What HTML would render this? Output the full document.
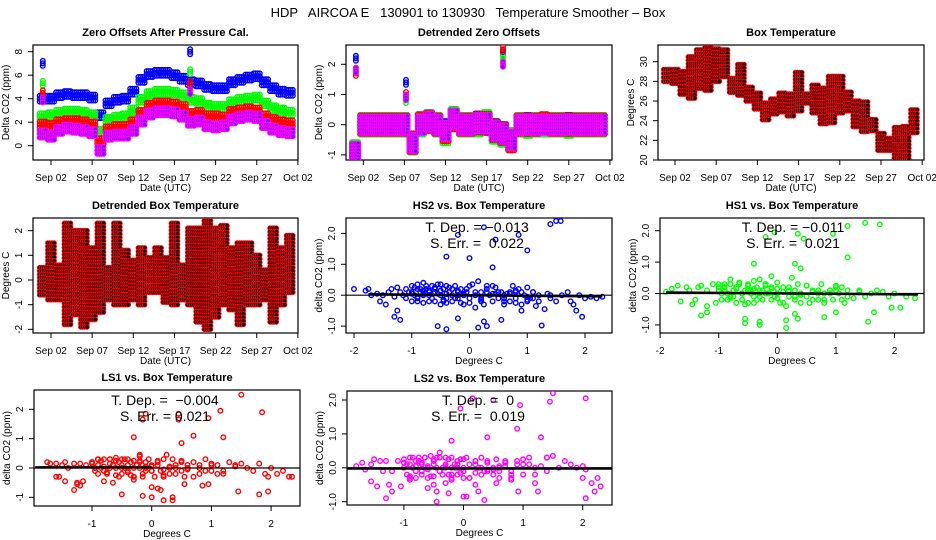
<!DOCTYPE html>
<html><head><meta charset="utf-8"><style>
html,body{margin:0;padding:0;background:#fff;}
svg{display:block;font-family:"Liberation Sans",Arial,sans-serif;}
</style></head><body>
<svg id="chart" width="936" height="540" viewBox="0 0 936 540">
<rect x="0" y="0" width="936" height="540" fill="#fff"/>
<text x="468" y="17" font-size="13" text-anchor="middle" style="white-space:pre" xml:space="preserve">HDP   AIRCOA E   130901 to 130930   Temperature Smoother – Box</text>
</svg>
<script>
// ---------- data: time series (t = day of month, step 1) ----------
const days = [1,2,3,4,5,6,7,8,9,10,11,12,13,14,15,16,17,18,19,20,21,22,23,24,25,26,27,28,29,30,31];
const zeroBlue   = [4.0,4.0,4.3,4.4,4.3,4.3,4.1,2.6,3.6,3.9,4.0,4.6,5.6,6.1,6.2,6.2,6.0,5.7,5.4,5.3,5.0,4.9,4.9,5.4,5.6,5.8,5.9,5.4,4.9,4.6,4.5];
const zeroGreen  = [2.5,2.6,2.8,2.9,2.9,2.8,2.6,1.2,2.2,2.4,2.5,3.0,3.9,4.4,4.6,4.6,4.5,4.3,3.9,3.8,3.4,3.3,3.3,3.7,3.9,4.0,4.1,3.6,3.2,3.0,2.8];
const zeroRed    = [1.8,1.7,2.0,2.1,2.1,2.0,1.8,0.4,1.4,1.6,1.6,2.0,2.8,3.4,3.6,3.6,3.5,3.3,2.7,2.8,2.5,2.5,2.4,2.9,3.0,3.1,3.0,2.5,2.2,2.0,1.9];
const zeroPurple = [1.0,0.8,1.3,1.5,1.4,1.3,1.1,-0.4,0.8,0.9,0.9,1.3,2.1,2.7,2.9,2.9,2.8,2.5,2.0,2.1,1.7,1.6,1.7,2.2,2.4,2.5,2.4,1.8,1.4,1.2,1.1];
const zeroOutT = [1.0,18.9];
const zeroOutBlue = [7.0,8.0];
const zeroOutGreen = [5.3,6.3];
const zeroOutRed = [4.5,5.3];
const zeroOutPurple = [3.9,4.6];

const detBlue   = [-0.9,0.0,0.0,0.0,0.0,0.0,0.0,-0.6,0.0,0.1,0.0,-0.2,0.2,0.0,0.0,0.05,0.05,-0.2,-0.3,-0.5,0.0,0.0,0.0,0.0,0.0,0.0,0.0,0.0,0.0,0.0,0.0];
const detGreen  = [-0.9,0.0,0.0,0.0,0.0,0.0,0.0,-0.6,0.0,0.1,0.0,-0.3,0.2,0.0,0.0,0.0,0.1,-0.25,-0.35,-0.5,0.0,-0.05,0.0,0.0,0.0,0.0,-0.05,0.0,0.0,0.0,0.0];
const detRed    = [-0.95,0.0,0.0,0.0,0.0,0.0,0.0,-0.6,0.05,0.1,0.0,-0.25,0.15,0.0,0.0,0.05,0.05,-0.2,-0.3,-0.55,0.0,0.0,0.0,0.05,0.0,0.0,0.0,0.0,0.0,0.0,0.0];
const detPurple = [-0.9,0.0,0.0,0.0,0.0,0.0,0.0,-0.6,0.0,0.1,0.0,-0.2,0.2,0.0,0.0,0.05,0.05,-0.2,-0.3,-0.5,0.0,0.0,0.0,0.0,0.0,0.0,0.0,0.0,0.0,0.0,0.0];
const detOutT = [1.1,7.2,19.0];
const detOutBlue = [2.2,1.4,2.4];
const detOutGreen = [1.8,0.8,2.2];
const detOutRed = [1.7,1.0,2.5];
const detOutPurple = [1.8,0.9,2.0];

const boxTempMin = [28.0,27.8,26.7,26.3,27.3,27.1,28.0,28.5,26.9,26.6,26.0,25.2,24.1,24.7,24.9,24.5,25.0,25.8,24.8,23.7,23.8,24.8,25.0,23.4,22.9,23.0,21.0,21.0,20.2,20.1,22.8];
const boxTempMax = [29.2,29.2,29.0,30.5,31.2,31.4,31.3,31.2,28.3,29.7,27.4,26.8,25.8,26.2,26.8,26.7,28.9,26.7,27.6,27.3,28.5,28.5,26.9,26.0,25.9,24.1,22.7,22.2,23.3,23.4,25.1];

const detTempMin = [-0.6,-0.8,-0.8,-1.8,-1.4,-1.9,-1.6,-1.3,-0.8,-1.0,-1.0,-0.8,-1.0,-0.5,-0.5,-0.9,-1.0,-0.8,-1.0,-1.7,-2.0,-1.5,-1.0,-1.2,-1.8,-1.0,-1.0,-0.8,-1.7,-1.0,-0.5];
const detTempMax = [0.5,1.5,0.6,2.3,2.0,2.0,1.3,2.3,0.5,2.3,1.2,0.8,1.3,0.9,1.3,0.9,2.3,0.6,2.1,2.1,2.4,2.1,2.2,1.3,1.5,1.5,1.0,0.4,2.1,1.3,1.8];

// ---------- data: scatter panels ----------
const hs2X = [-2.0,-1.8,-1.75,-1.7,-1.6,-1.55,-1.5,-1.45,-1.4,-1.35,-1.3,-1.25,-1.2,-1.15,-1.1,-1.05,-1.0,-0.95,-0.9,-0.9,-0.85,-0.8,-0.8,-0.75,-0.7,-0.65,-0.6,-0.6,-0.55,-0.5,-0.5,-0.45,-0.4,-0.4,-0.35,-0.3,-0.25,-0.2,-0.15,-0.1,-0.05,0.0,0.05,0.1,0.15,0.2,0.25,0.3,0.35,0.4,0.45,0.5,0.55,0.6,0.65,0.7,0.75,0.8,0.85,0.9,0.95,1.0,1.05,1.1,1.15,1.2,1.3,1.35,1.4,1.5,1.6,1.7,1.75,1.8,1.9,2.0,2.1,2.2,2.3,
 -1.0,-0.9,-0.7,-0.6,-0.5,-0.3,-0.2,0.1,0.2,0.3,0.6,0.8,1.0,1.1,-1.1,-0.8,-0.45,-0.15,0.45,0.7,
 -1.3,-1.25,-1.2,-0.55,-0.4,-0.4,-0.2,-0.2,0.0,0.25,0.4,0.45,0.3,0.15,0.25,0.55,0.85,1.0,1.25,1.4,1.5,1.58,1.85,1.95,0.9];
const hs2Y = [0.2,0.15,0.2,0.0,0.05,-0.2,0.0,-0.3,0.1,0.2,-0.05,0.25,0.1,0.0,0.2,0.1,0.3,0.0,0.35,-0.2,0.1,0.4,-0.25,0.2,0.0,0.3,-0.2,0.1,0.35,0.0,-0.3,0.2,0.3,-0.1,0.1,-0.2,0.3,0.0,0.2,-0.3,0.1,-0.1,0.35,-0.4,0.45,0.1,-0.3,0.3,0.0,-0.2,0.25,-0.1,0.1,-0.3,0.05,-0.2,0.3,-0.1,0.2,-0.3,0.0,0.25,-0.1,0.1,-0.35,0.0,-0.45,0.05,-0.1,-0.2,0.0,0.1,-0.2,-0.3,0.0,-0.1,-0.05,-0.1,-0.05,
 0.1,0.2,0.15,0.25,0.15,0.2,-0.1,0.1,-0.15,0.2,0.0,0.15,-0.15,0.1,-0.1,0.05,-0.15,0.05,0.05,0.1,
 -0.7,-0.5,-0.8,-1.0,-1.1,1.25,1.95,-0.75,1.2,2.2,0.9,1.8,-1.0,-1.05,-0.85,-0.8,1.95,1.45,-0.98,2.3,2.4,2.4,-0.5,-0.7,-0.5];

const hs1X = [-1.9,-1.8,-1.7,-1.65,-1.55,-1.5,-1.4,-1.35,-1.3,-1.2,-1.1,-1.05,-1.0,-0.95,-0.9,-0.85,-0.8,-0.75,-0.7,-0.65,-0.6,-0.55,-0.5,-0.45,-0.4,-0.35,-0.3,-0.25,-0.2,-0.1,-0.05,0.0,0.05,0.1,0.15,0.2,0.25,0.3,0.35,0.4,0.5,0.55,0.6,0.7,0.75,0.8,0.9,0.95,1.0,1.05,1.1,1.15,1.2,1.3,1.4,1.5,1.6,1.7,1.8,1.9,2.0,
 -0.9,-0.7,-0.5,-0.3,-0.1,0.1,0.3,0.5,0.7,0.9,-0.8,-0.6,-0.4,-0.2,0.0,0.2,0.4,
 -1.3,-1.45,-1.2,-1.2,-0.55,-0.55,-0.3,-0.3,-0.4,-0.2,-0.05,0.3,0.4,0.35,0.45,0.15,0.15,0.3,0.35,0.8,0.95,1.0,1.2,1.2,1.5,1.55,1.65,1.75,1.95,2.1,2.2,2.35];
const hs1Y = [0.05,0.15,0.25,-0.25,0.2,0.1,-0.2,0.2,0.25,0.1,0.3,-0.3,0.2,0.0,0.3,-0.2,0.45,0.1,-0.3,0.3,0.0,-0.35,0.3,0.1,0.4,-0.2,0.45,0.1,0.3,0.55,-0.1,0.35,-0.3,0.2,-0.4,0.1,0.5,-0.2,0.3,0.0,0.25,-0.3,0.1,-0.2,0.3,0.0,0.1,-0.2,0.25,0.0,0.2,-0.3,0.1,-0.15,0.1,-0.1,0.0,0.1,0.05,-0.1,0.0,
 0.1,0.2,0.1,0.0,0.15,0.05,0.1,-0.1,0.0,0.1,-0.1,-0.2,-0.1,0.0,-0.15,-0.1,-0.05,
 -0.7,-0.35,-0.4,-0.6,-0.8,-0.95,-0.9,-1.0,0.95,1.8,1.95,0.95,0.8,1.9,1.75,-0.85,-1.1,-0.65,-0.8,-0.75,1.9,-0.6,2.15,1.15,2.25,-0.9,-0.6,2.2,-0.45,-0.45,-0.1,-0.15];

const ls1X = [-1.75,-1.7,-1.6,-1.55,-1.5,-1.45,-1.4,-1.3,-1.25,-1.2,-1.1,-1.0,-0.95,-0.9,-0.85,-0.8,-0.75,-0.7,-0.65,-0.6,-0.55,-0.5,-0.45,-0.4,-0.35,-0.3,-0.25,-0.2,-0.15,-0.1,0.0,0.05,0.1,0.15,0.2,0.25,0.3,0.35,0.4,0.5,0.55,0.6,0.7,0.8,0.9,1.0,1.1,1.2,1.3,1.4,1.5,1.6,1.7,1.8,1.9,2.0,2.1,2.2,2.3,
 -0.9,-0.7,-0.5,-0.3,-0.1,0.1,0.3,0.5,-0.8,-0.6,-0.4,-0.2,0.0,0.2,0.4,0.6,
 -1.6,-1.45,-1.3,-1.25,-1.2,-1.15,-0.8,-0.65,-0.5,-0.3,-0.3,-0.2,-0.15,-0.15,-0.1,0.0,0.0,0.1,0.15,0.2,0.35,0.35,0.45,0.45,0.5,0.55,0.7,0.85,0.95,0.95,1.15,1.2,1.45,1.5,1.8,1.85,1.95,1.95,2.35];
const ls1Y = [0.2,0.15,0.15,-0.3,0.1,0.2,0.0,0.15,-0.5,0.15,0.1,0.2,-0.1,0.3,0.0,0.3,-0.2,0.3,0.1,0.35,-0.3,0.3,0.0,0.3,-0.25,0.25,0.1,0.4,-0.3,0.2,0.1,-0.3,0.25,-0.1,0.3,0.45,-0.2,0.3,0.0,0.2,-0.3,0.1,0.2,0.0,0.3,-0.1,0.1,-0.2,0.2,0.1,0.15,0.0,-0.1,0.15,-0.2,0.0,-0.2,-0.1,-0.3,
 0.1,0.15,0.1,0.0,0.05,0.1,0.0,-0.1,-0.1,0.0,-0.15,0.0,-0.1,-0.05,0.1,-0.05,
 -0.3,-0.45,-0.75,-0.55,-0.6,-0.45,-0.45,-0.5,-0.9,1.05,-0.4,0.45,1.65,-0.95,1.85,-0.65,-1.0,-0.7,-0.75,-1.1,-1.0,-1.1,1.85,1.65,0.85,-0.55,1.1,-0.6,1.7,-0.55,1.95,1.05,-0.8,2.5,-0.9,1.9,-0.3,-0.8,-0.3];

const ls2X = [-1.8,-1.7,-1.65,-1.55,-1.5,-1.4,-1.35,-1.3,-1.2,-1.1,-1.0,-0.95,-0.9,-0.85,-0.8,-0.75,-0.7,-0.65,-0.6,-0.55,-0.5,-0.45,-0.4,-0.35,-0.3,-0.25,-0.2,-0.15,-0.1,-0.05,0.0,0.05,0.1,0.2,0.25,0.3,0.35,0.4,0.5,0.55,0.6,0.7,0.8,0.9,1.0,1.1,1.2,1.3,1.4,1.5,1.6,1.7,1.8,1.9,2.0,2.05,
 -0.9,-0.7,-0.5,-0.3,-0.1,0.1,0.3,0.5,0.7,-0.8,-0.6,-0.4,-0.2,0.0,0.2,0.4,0.6,
 -1.55,-1.45,-1.3,-1.25,-1.2,-1.05,-0.9,-0.6,-0.5,-0.45,-0.45,-0.3,-0.25,-0.2,-0.2,-0.05,0.0,0.05,0.15,0.2,0.25,0.35,0.4,0.5,0.55,0.8,0.9,0.92,0.95,1.2,1.25,1.3,1.4,1.45,1.5,2.0,2.05,2.05,2.15,2.2,2.25,2.3];
const ls2Y = [0.05,0.15,-0.05,0.1,0.25,0.2,-0.1,0.2,-0.1,0.2,0.25,0.1,-0.3,0.3,0.05,0.3,-0.2,0.3,0.0,0.35,-0.25,0.3,0.45,0.0,0.3,-0.2,0.3,0.1,-0.2,0.25,0.0,0.3,-0.3,0.2,0.0,0.3,-0.1,0.2,-0.2,0.25,0.0,0.15,-0.3,0.2,0.25,0.1,-0.2,0.05,0.3,0.35,0.0,0.2,0.1,0.0,0.05,-0.05,
 0.1,0.15,0.1,0.05,0.0,0.1,0.0,-0.05,0.05,-0.1,-0.05,-0.1,0.0,-0.1,-0.15,-0.05,-0.1,
 -0.4,-0.55,-0.9,-0.5,-0.7,-0.55,-0.35,-0.6,-0.5,-0.7,-1.0,-0.45,-0.75,0.8,-0.35,1.75,-0.85,-0.85,2.05,-0.5,-0.7,-0.95,0.9,2.0,-0.45,-0.35,1.15,-0.7,1.85,-0.45,-0.7,0.9,0.3,1.95,2.2,-0.3,2.05,-0.9,-0.45,-0.7,-0.3,-0.55];

// dense central cloud (shared temperature x values, per-channel CO2 values)
const cloudX = [-1.0,-0.95,-0.9,-0.85,-0.8,-0.75,-0.7,-0.65,-0.6,-0.55,-0.5,-0.45,-0.4,-0.35,-0.3,-0.25,-0.2,-0.15,-0.1,-0.05,0.0,0.1,0.2,0.3,0.4,0.5,0.6,0.7,0.8,0.9,1.0,1.1,-1.0,-0.9,-0.8,-0.7,-0.6,-0.5,-0.4,-0.3,-0.2,-0.1,0.0,0.2,0.4,0.6,0.8,1.0,1.2,1.4];
const hs2CloudY = [0.05,0.25,-0.1,0.2,0.0,0.3,0.1,-0.1,0.25,0.05,0.15,-0.2,0.05,0.25,0.0,-0.1,0.15,-0.25,0.05,0.2,0.3,0.0,-0.2,0.1,0.3,0.1,-0.2,0.05,-0.25,0.1,-0.2,-0.1,-0.2,-0.05,0.15,-0.2,0.2,0.35,-0.25,0.2,0.1,0.0,-0.25,-0.1,0.05,-0.1,0.1,-0.05,-0.2,0.0];
const hs1CloudY = [0.1,-0.2,0.2,0.0,0.3,-0.1,0.15,0.35,-0.2,0.1,0.25,0.0,-0.3,0.2,0.1,-0.2,0.3,0.0,0.2,-0.1,0.15,-0.3,0.2,-0.1,0.0,0.25,-0.2,0.1,-0.3,0.0,0.2,-0.2,0.3,0.1,-0.15,0.2,0.0,-0.3,0.15,-0.1,0.25,-0.2,0.0,0.1,-0.3,0.05,-0.2,0.1,-0.1,0.05];
const ls1CloudY = [0.2,0.0,-0.2,0.25,0.05,-0.15,0.3,0.1,-0.25,0.2,0.0,0.3,-0.1,0.2,-0.3,0.1,0.25,-0.2,0.0,0.3,-0.1,0.2,-0.3,0.05,-0.2,0.25,0.0,-0.3,0.1,-0.1,0.1,-0.2,0.15,0.3,-0.1,0.0,0.25,-0.2,0.1,-0.3,0.2,-0.1,0.05,-0.25,0.1,0.0,-0.2,0.15,-0.1,0.05];
const ls2CloudY = [0.15,-0.2,0.3,0.0,-0.3,0.2,-0.1,0.3,0.05,-0.25,0.2,0.0,0.3,-0.2,0.1,0.25,-0.3,0.0,0.2,-0.15,0.25,-0.3,0.1,-0.2,0.15,0.0,-0.3,0.2,-0.1,0.1,-0.2,0.3,0.0,-0.25,0.2,0.1,-0.3,0.25,-0.1,0.0,-0.2,0.1,-0.3,0.2,-0.1,0.05,-0.2,0.1,0.0,-0.1];

// ---------- helpers ----------
const svg = document.getElementById('chart');
const NS = 'http://www.w3.org/2000/svg';
function mk(tag, attrs, parent){ const e=document.createElementNS(NS,tag); for(const k in attrs) e.setAttribute(k,attrs[k]); (parent||svg).appendChild(e); return e; }
function txt(x,y,s,size,opts){ const e=mk('text',Object.assign({x:x,y:y,'font-size':size,'text-anchor':'middle'},opts||{})); e.textContent=s; return e; }

function panel(p){
  const g = mk('g',{});
  
  
  const b = mk('rect',{x:p.x0,y:p.y0,width:p.x1-p.x0,height:p.y1-p.y0,fill:'none',stroke:'#000','stroke-width':1.2},g);
  
  
  const t = txt((p.x0+p.x1)/2, p.y0-9, p.title, 11, {'font-weight':'bold'});
  
  
  const xa = mk('g',{},g);
  
  
  const xs = p.xt.map(p.fx);
  mk('line',{x1:xs[0],x2:xs[xs.length-1],y1:p.y1,y2:p.y1,stroke:'#000'},xa);
  p.xt.forEach((v,i)=>{
    mk('line',{x1:xs[i],x2:xs[i],y1:p.y1,y2:p.y1+5,stroke:'#000'},xa);
    const l = txt(xs[i], p.y1+21, p.xl[i], 10);
    
    
  });
  const xt = txt((p.x0+p.x1)/2, p.y1+31, p.xlab, 10);
  
  
  const ya = mk('g',{},g);
  
  
  const ys = p.yt.map(p.fy);
  mk('line',{x1:p.x0,x2:p.x0,y1:ys[0],y2:ys[ys.length-1],stroke:'#000'},ya);
  p.yt.forEach((v,i)=>{
    mk('line',{x1:p.x0-5,x2:p.x0,y1:ys[i],y2:ys[i],stroke:'#000'},ya);
    const lx = p.x0-11;
    const l = txt(lx, ys[i], p.yl[i], 10, {transform:'rotate(-90 '+lx+' '+ys[i]+')'});
    
    
  });
  const cy=(p.y0+p.y1)/2, cx=p.x0-24;
  const yt = txt(cx, cy, p.ylab, 10, {transform:'rotate(-90 '+cx+' '+cy+')'});
  
  
  const clip = mk('clipPath',{id:'clip-'+p.name});
  mk('rect',{x:p.x0,y:p.y0,width:p.x1-p.x0,height:p.y1-p.y0},clip);
  const marks = mk('g',{'clip-path':'url(#clip-'+p.name+')'},g);
  
  
  return marks;
}
function dot(parent,x,y,stroke,fill,sw){ return mk('circle',{cx:x.toFixed(1),cy:y.toFixed(1),r:2.3,fill:fill||'none',stroke:stroke,'stroke-width':sw||1.4},parent); }

const dateTicks=[2,7,12,17,22,27,32], dateLabels=['Sep 02','Sep 07','Sep 12','Sep 17','Sep 22','Sep 27','Oct 02'];
const BLUE='#0000ff', GREEN='#00ff00', RED='#ff0000', PURP='#ff00ff';

function bandSeries(g,p,vals,half,stroke,fill,nm){
  const s = mk('g',{},g);
  
  
  vals.forEach((v,i)=>{
    const t=days[i];
    const yA=p.fy(v-half), yB=p.fy(v+half);
    const n=Math.max(1,Math.round(Math.abs(yA-yB)/3));
    for(let dx=-0.375;dx<=0.38;dx+=0.25){
      for(let k=0;k<=n;k++){ dot(s,p.fx(t+dx),yB+(yA-yB)*k/n,stroke,fill); }
    }
  });
  return s;
}
function rangeSeries(g,p,mins,maxs,stroke,fill,nm){
  const s = mk('g',{},g);
  
  
  mins.forEach((mn,i)=>{
    const t=days[i]; const yA=p.fy(mn), yB=p.fy(maxs[i]);
    const n=Math.max(1,Math.round(Math.abs(yA-yB)/3.5));
    for(let dx=-0.375;dx<=0.38;dx+=0.25){
      for(let k=0;k<=n;k++){ dot(s,p.fx(t+dx),yB+(yA-yB)*k/n,stroke,fill,1.0); }
    }
  });
}
function outliers(g,p,ts,vals,stroke,fill){
  ts.forEach((t,i)=>{ for(let k=-1;k<=1;k++) dot(g,p.fx(t),p.fy(vals[i])+k*2.5,stroke,fill); });
}

// ---------- Panel 1 ----------
const P1={name:'zero-offsets',x0:33,x1:298,y0:45,y1:160,fx:t=>51+(t-2)*8.23,fy:v=>145.7-v*11.75,xt:dateTicks,xl:dateLabels,yt:[0,2,4,6,8],yl:['0','2','4','6','8'],title:'Zero Offsets After Pressure Cal.',xlab:'Date (UTC)',ylab:'Delta CO2 (ppm)'};
let g1=panel(P1);
bandSeries(g1,P1,zeroBlue,0.25,BLUE,null,'hs2-zero-series');
bandSeries(g1,P1,zeroGreen,0.25,GREEN,null,'hs1-zero-series');
bandSeries(g1,P1,zeroRed,0.25,RED,null,'ls1-zero-series');
bandSeries(g1,P1,zeroPurple,0.3,PURP,'#5a00ff','ls2-zero-series');
outliers(g1,P1,zeroOutT,zeroOutBlue,BLUE); outliers(g1,P1,zeroOutT,zeroOutGreen,GREEN);
outliers(g1,P1,zeroOutT,zeroOutRed,RED); outliers(g1,P1,zeroOutT,zeroOutPurple,PURP,'#5a00ff');

// ---------- Panel 2 ----------
const P2={name:'detrended-zero',x0:346,x1:612,y0:45,y1:160,fx:t=>363.3+(t-2)*8.22,fy:v=>124.7-v*30.2,xt:dateTicks,xl:dateLabels,yt:[-1,0,1,2],yl:['-1','0','1','2'],title:'Detrended Zero Offsets',xlab:'Date (UTC)',ylab:'Delta CO2 (ppm)'};
let g2=panel(P2);
bandSeries(g2,P2,detBlue,0.32,BLUE,null,'hs2-detrended-series');
bandSeries(g2,P2,detGreen,0.32,GREEN,null,'hs1-detrended-series');
bandSeries(g2,P2,detRed,0.3,RED,null,'ls1-detrended-series');
bandSeries(g2,P2,detPurple,0.27,PURP,'#5a00ff','ls2-detrended-series');
outliers(g2,P2,detOutT,detOutBlue,BLUE); outliers(g2,P2,detOutT,detOutGreen,GREEN);
outliers(g2,P2,detOutT,detOutRed,RED); outliers(g2,P2,detOutT,detOutPurple,PURP,'#5a00ff');

// ---------- Panel 3 ----------
const P3={name:'box-temperature',x0:658,x1:924,y0:45,y1:160,fx:t=>675+(t-2)*8.24,fy:v=>160-(v-20)*9.83,xt:dateTicks,xl:dateLabels,yt:[20,22,24,26,28,30],yl:['20','22','24','26','28','30'],title:'Box Temperature',xlab:'Date (UTC)',ylab:'Degrees C'};
let g3=panel(P3);
rangeSeries(g3,P3,boxTempMin,boxTempMax,RED,'#000','box-temperature-series');

// ---------- Panel 4 ----------
const P4={name:'detrended-box-temperature',x0:33,x1:298,y0:218,y1:333,fx:t=>51+(t-2)*8.23,fy:v=>280-v*24.67,xt:dateTicks,xl:dateLabels,yt:[-2,-1,0,1,2],yl:['-2','-1','0','1','2'],title:'Detrended Box Temperature',xlab:'Date (UTC)',ylab:'Degrees C'};
let g4=panel(P4);
rangeSeries(g4,P4,detTempMin,detTempMax,RED,'#000','detrended-temperature-series');

// ---------- scatter panels ----------
function scatter(p,xs,ys,cys,stroke,fill,fit,t1,t2,tx,ty){
  const g=panel(p);
  const s=mk('g',{},g);
  
  
  xs.forEach((x,i)=>dot(s,p.fx(x),p.fy(ys[i]||0),stroke,fill));
  cloudX.forEach((x,i)=>dot(s,p.fx(x),p.fy(cys[i]||0),stroke,fill));
  const z=mk('line',{x1:p.x0,x2:p.x1,y1:p.fy(0),y2:p.fy(0),stroke:'#000','stroke-width':1.2},g);
  
  
  const f=mk('line',{x1:p.fx(fit[0]),x2:p.fx(fit[1]),y1:p.fy(fit[2]),y2:p.fy(fit[3]),stroke:'#000','stroke-width':2.5},g);
  
  
  const a=txt(tx,ty,t1,14,{style:'white-space:pre'});
  
  
  const b=txt(tx,ty+16,t2,14,{style:'white-space:pre'});
  
  
}
const decY=[-1,0,1,2], decYL=['-1.0','0.0','1.0','2.0'];
const P5={name:'hs2-vs-temp',x0:346,x1:612,y0:218,y1:333,fx:v=>469.5+v*57.75,fy:v=>295.2-v*30.9,xt:[-2,-1,0,1,2],xl:['-2','-1','0','1','2'],yt:decY,yl:decYL,title:'HS2 vs. Box Temperature',xlab:'Degrees C',ylab:'delta CO2 (ppm)'};
scatter(P5,hs2X,hs2Y,hs2CloudY,BLUE,null,[-1.75,2.3,0.03,-0.04],'T. Dep. = −0.013','S. Err. =  0.022',477,232);
const P6={name:'hs1-vs-temp',x0:660,x1:924,y0:218,y1:333,fx:v=>777.3+v*58.6,fy:v=>293.5-v*31.4,xt:[-2,-1,0,1,2],xl:['-2','-1','0','1','2'],yt:decY,yl:decYL,title:'HS1 vs. Box Temperature',xlab:'Degrees C',ylab:'delta CO2 (ppm)'};
scatter(P6,hs1X,hs1Y,hs1CloudY,GREEN,null,[-1.9,2.4,0.03,-0.03],'T. Dep. = −0.011','S. Err. =  0.021',793,232);
const P7={name:'ls1-vs-temp',x0:34,x1:300,y0:390,y1:506,fx:v=>151.7+v*59.7,fy:v=>468-v*29.33,xt:[-1,0,1,2],xl:['-1','0','1','2'],yt:[-1,0,1,2],yl:['-1','0','1','2'],title:'LS1 vs. Box Temperature',xlab:'Degrees C',ylab:'delta CO2 (ppm)'};
scatter(P7,ls1X,ls1Y,ls1CloudY,RED,null,[-1.95,0.0,0.02,0.02],'T. Dep. =  −0.004','S. Err. = 0.021',165,405);
const P8={name:'ls2-vs-temp',x0:347,x1:612,y0:391,y1:505,fx:v=>463.5+v*59.6,fy:v=>467.8-v*33.9,xt:[-1,0,1,2],xl:['-1','0','1','2'],yt:decY,yl:decYL,title:'LS2 vs. Box Temperature',xlab:'Degrees C',ylab:'delta CO2 (ppm)'};
scatter(P8,ls2X,ls2Y,ls2CloudY,PURP,null,[-1.95,2.5,-0.02,-0.02],'T. Dep. =  0','S. Err. =  0.019',478,405);
</script>
</body></html>
